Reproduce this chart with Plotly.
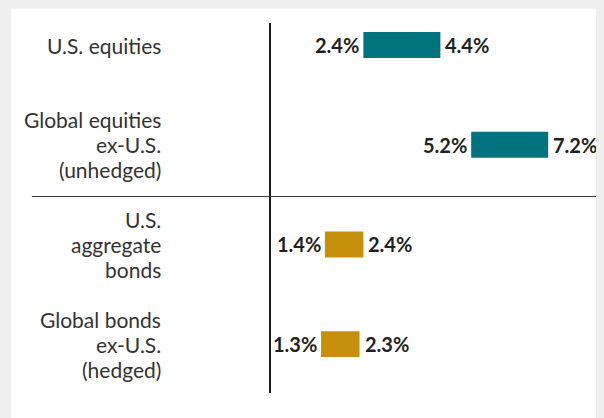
import plotly.graph_objects as go

# asset classes, top to bottom
categories = [
    "U.S. equities",
    "Global equities\nex-U.S.\n(unhedged)",
    "U.S.\naggregate\nbonds",
    "Global bonds\nex-U.S.\n(hedged)",
]
low = [2.4, 5.2, 1.4, 1.3]
high = [4.4, 7.2, 2.4, 2.3]
bar_colors = ["#00737f", "#00737f", "#c68f0c", "#c68f0c"]

LINE_H = 25  # px between label lines
PAGE_BG = "#efefef"

figure = go.Figure()

figure.add_bar(
    y=categories,
    x=[h - l for l, h in zip(low, high)],
    base=low,
    orientation="h",
    width=0.26,
    marker_color=bar_colors,
    marker_line_width=0,
    hoverinfo="skip",
)

annotations = []
for cat, lo, hi in zip(categories, low, high):
    # range labels either side of the bar
    annotations.append(dict(x=lo, y=cat, xref="x", yref="y", text=f"<b>{lo:.1f}%</b>",
                            xanchor="right", xshift=-2, showarrow=False))
    annotations.append(dict(x=hi, y=cat, xref="x", yref="y", text=f"<b>{hi:.1f}%</b>",
                            xanchor="left", xshift=3, showarrow=False))
    # category label, one annotation per line so the spacing can be matched
    lines = cat.split("\n")
    for i, line in enumerate(lines):
        offset = (i - (len(lines) - 1) / 2) * LINE_H
        annotations.append(dict(x=-0.325, y=cat, xref="paper", yref="y", text=line,
                                xanchor="right", yshift=-offset, showarrow=False,
                                font=dict(family="Lato", size=21, color="#333333")))

# the page body keeps its default 8px margin, so the figure is 8px smaller each way
figure.update_layout(
    width=596,
    height=410,
    margin=dict(l=263, r=0, t=15, b=25),
    paper_bgcolor=PAGE_BG,
    plot_bgcolor="rgba(0,0,0,0)",
    showlegend=False,
    font=dict(family="Lato", size=20, color="#231f20"),
    annotations=annotations,
    shapes=[
        # white card on the grey page
        dict(type="rect", xref="paper", yref="paper", x0=-0.781, x1=1.05, y0=-0.2, y1=1.039,
             fillcolor="white", line_width=0, layer="below"),
        # divider between equities and bonds
        dict(type="line", xref="paper", yref="y", x0=-0.718, x1=1.05, y0=1.52, y1=1.52,
             line=dict(color="#333333", width=1)),
    ],
)

figure.update_xaxes(range=[0, 8.65], visible=False, fixedrange=True)
figure.update_yaxes(
    categoryorder="array",
    categoryarray=categories,
    range=[3.49, -0.2207],
    showticklabels=False,
    ticks="",
    showgrid=False,
    zeroline=False,
    showline=True,
    linecolor="#1a1a1a",
    linewidth=1.5,
    fixedrange=True,
)

figure.write_html("out.html", post_script=f"document.body.style.background='{PAGE_BG}';")
